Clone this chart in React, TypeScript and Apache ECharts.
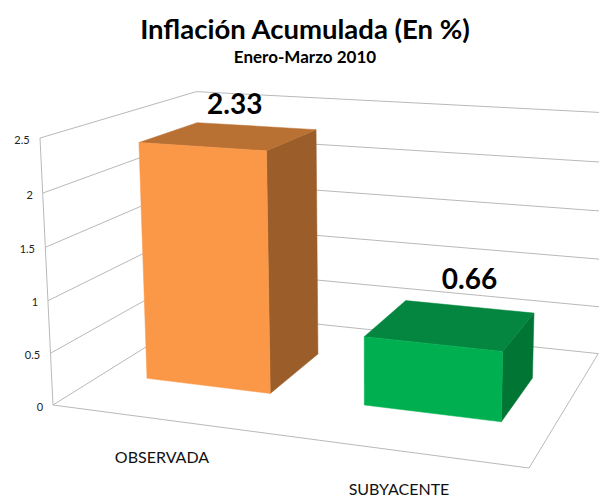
import React, { useEffect, useRef } from "react";
import * as echarts from "echarts";

const categories = ["OBSERVADA", "SUBYACENTE"];
const values = [2.33, 0.66];
const valueLabels = ["2.33", "0.66"];
const yTicks = [0, 0.5, 1, 1.5, 2, 2.5];
const yTickLabels = ["0", "0.5", "1", "1.5", "2", "2.5"];

const FONT = "Lato, 'Open Sans', sans-serif";
const GRID_COLOR = "#b9b9b9";
const FACE_COLORS = [
  { front: "#fb9848", top: "#b97033", side: "#9b5e2b" },
  { front: "#00b050", top: "#048640", side: "#017534" },
];

// Perspective box: screen positions of the chart's corners and their depth weights.
const A = [53, 405];
const B = [529, 468];
const C = [202, 312];
const E = [40, 138];
const wB = 0.893;
const wE = 0.961;
const wC = 1.2198;

function project(u: number, v: number, w: number): number[] {
  const x = A[0] + u * (wB * B[0] - A[0]) + v * (wE * E[0] - A[0]) + w * (wC * C[0] - A[0]);
  const y = A[1] + u * (wB * B[1] - A[1]) + v * (wE * E[1] - A[1]) + w * (wC * C[1] - A[1]);
  const d = 1 + u * (wB - 1) + v * (wE - 1) + w * (wC - 1);
  return [x / d, y / d];
}

const DEPTH_FRONT = 0.3;
const DEPTH_BACK = 0.695;
const BAND_FILL = 0.58;
const valueLabelOffset = [[-21, -23], [0.5, -28.5]];
const categoryLabelPos = [[162, 456], [399, 488]];

function line(p: number[], q: number[]) {
  return {
    type: "line",
    shape: { x1: p[0], y1: p[1], x2: q[0], y2: q[1] },
    style: { stroke: GRID_COLOR, lineWidth: 1, fill: "none" },
    silent: true,
  };
}

function text(t: string, x: number, y: number, size: number, weight: string, color: string) {
  return {
    type: "text",
    silent: true,
    style: {
      text: t, x, y, fill: color,
      font: `${weight} ${size}px ${FONT}`,
      align: "center", verticalAlign: "middle",
      textAlign: "center", textVerticalAlign: "middle",
    },
  };
}

function poly(points: number[][], fill: string) {
  return { type: "polygon", shape: { points }, style: { fill, stroke: fill, lineWidth: 0.5 }, silent: true };
}

const renderWall = (params: any, api: any) => {
  const cs = params.coordSys;
  const i = params.dataIndex;
  const pt = api.coord([0, api.value(1)]);
  const v = (cs.y + cs.height - pt[1]) / cs.height;
  const children: any[] = [
    line(project(0, v, 0), project(0, v, 1)),
    line(project(0, v, 1), project(1, v, 1)),
  ];
  if (i === 0) {
    children.push(line(project(0, 0, 0), project(1, 0, 0)));
    children.push(line(project(1, 0, 0), project(1, 0, 1)));
  }
  if (i === yTicks.length - 1) {
    children.push(line(project(0, 0, 0), project(0, 1, 0)));
  }
  const f = project(0, v, 0);
  children.push(text(yTickLabels[i], f[0] - (yTickLabels[i].length === 1 ? 13 : 18), f[1] + 1, 11, "normal", "#222"));
  return { type: "group", children };
};

const renderBar = (params: any, api: any) => {
  const cs = params.coordSys;
  const i = params.dataIndex;
  const pt = api.coord([api.value(0), api.value(1)]);
  const band = api.size([1, 0])[0];
  const u0 = (pt[0] - (band * BAND_FILL) / 2 - cs.x) / cs.width;
  const u1 = (pt[0] + (band * BAND_FILL) / 2 - cs.x) / cs.width;
  const v = (cs.y + cs.height - pt[1]) / cs.height;
  const w0 = DEPTH_FRONT;
  const w1 = DEPTH_BACK;
  const c = FACE_COLORS[i];
  const backMid = project((u0 + u1) / 2, v, w1);
  const off = valueLabelOffset[i];
  const catPos = categoryLabelPos[i];
  return {
    type: "group",
    children: [
      poly([project(u1, 0, w0), project(u1, 0, w1), project(u1, v, w1), project(u1, v, w0)], c.side),
      poly([project(u0, v, w0), project(u1, v, w0), project(u1, v, w1), project(u0, v, w1)], c.top),
      poly([project(u0, 0, w0), project(u1, 0, w0), project(u1, v, w0), project(u0, v, w0)], c.front),
      text(valueLabels[i], backMid[0] + off[0], backMid[1] + off[1], 28, "bold", "#000"),
      text(categories[i], catPos[0], catPos[1], 16, "normal", "#111"),
    ],
  };
};

export default function App() {
  const ref = useRef<HTMLDivElement>(null);
  useEffect(() => {
    const chart = echarts.init(ref.current!, undefined, { renderer: "svg" });
    chart.setOption({
      animation: false,
      backgroundColor: "#ffffff",
      title: {
        text: "Inflación Acumulada (En %)",
        subtext: "Enero-Marzo 2010",
        left: 300,
        top: 9,
        textAlign: "center",
        itemGap: 6,
        textStyle: { fontFamily: FONT, fontSize: 27.5, fontWeight: "bold", color: "#000" },
        subtextStyle: { fontFamily: FONT, fontSize: 17, fontWeight: "bold", color: "#000" },
      },
      grid: { left: 0, top: 0, width: 500, height: 400, show: false },
      xAxis: { type: "category", data: categories, show: false },
      yAxis: { type: "value", min: 0, max: 2.5, interval: 0.5, show: false },
      series: [
        { type: "custom", renderItem: renderWall, clip: false, silent: true, data: yTicks.map((t) => [0, t]), encode: { x: 0, y: 1 } },
        { type: "custom", renderItem: renderBar, clip: false, silent: true, data: categories.map((_, i) => [i, values[i]]), encode: { x: 0, y: 1 } },
      ],
    });
    return () => chart.dispose();
  }, []);
  return <div ref={ref} style={{ position: "fixed", left: 0, top: 0, width: 599, height: 496 }} />;
}
